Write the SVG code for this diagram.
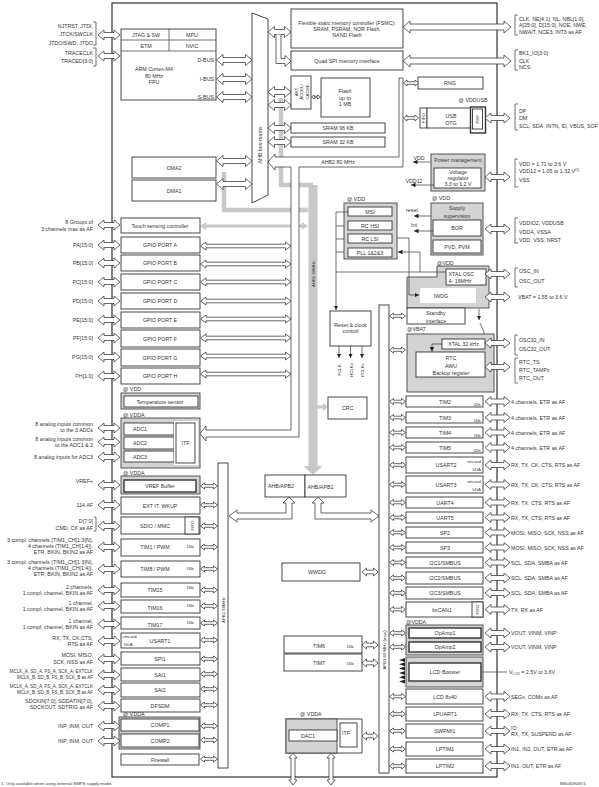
<svg xmlns="http://www.w3.org/2000/svg" width="599" height="787" viewBox="0 0 599 787">
<style>
.t{font-family:"Liberation Sans",Arial,sans-serif;font-size:5.3px;fill:#333}
.s{font-size:4.3px}
.n{font-size:4.5px}
.m{text-anchor:middle}
.e{text-anchor:end}
.b{fill:#fff;stroke:#333;stroke-width:0.9}
.bb{fill:#fff;stroke:#333;stroke-width:1.4}
.g{fill:#d3d3d3;stroke:#444;stroke-width:0.9}
.a{fill:#fff;stroke:#333;stroke-width:0.75}
.l{fill:none;stroke:#333;stroke-width:0.7}
.gy{fill:none;stroke:#c8c8c8;stroke-width:4.5}
.gf{fill:#c8c8c8}
</style>
<defs>
<marker id="ah" viewBox="0 0 6 6" refX="6" refY="3" markerUnits="userSpaceOnUse" markerWidth="4.5" markerHeight="4.5" orient="auto"><path d="M0,0 L6,3 L0,6 Z" fill="#222"/></marker>
<path id="aL" class="a" d="M98,0 L104,-5 L104,-2.5 L114,-2.5 L114,-5 L120,0 L114,5 L114,2.5 L104,2.5 L104,5 Z"/>
<path id="aR" class="a" d="M485,0 L491,-5 L491,-2.5 L504,-2.5 L504,-5 L510,0 L504,5 L504,2.5 L491,2.5 L491,5 Z"/>
<path id="a2" class="a" d="M200.5,0 L204.5,-3 L204.5,-1.3 L213.5,-1.3 L213.5,-3 L217.5,0 L213.5,3 L213.5,1.3 L204.5,1.3 L204.5,3 Z"/>
<path id="a1" class="a" d="M389.5,0 L393.5,-3 L393.5,-1.3 L401.5,-1.3 L401.5,-3 L405.5,0 L401.5,3 L401.5,1.3 L393.5,1.3 L393.5,3 Z"/>
<path id="aG" class="a" d="M200.5,0 L206,-4 L206,-1.8 L285.5,-1.8 L285.5,-4 L291,0 L285.5,4 L285.5,1.8 L206,1.8 L206,4 Z"/>
<path id="aM" class="a" d="M216.5,0 L223,-5.5 L223,-2.5 L245.5,-2.5 L245.5,-5.5 L252,0 L245.5,5.5 L245.5,2.5 L223,2.5 L223,5.5 Z"/>
<path id="aN" class="a" d="M268,0 L274.5,-5.5 L274.5,-2.5 L284.5,-2.5 L284.5,-5.5 L291,0 L284.5,5.5 L284.5,2.5 L274.5,2.5 L274.5,5.5 Z"/>
<path id="aT" class="a" d="M362,0 L366.5,-4 L366.5,-1.8 L373.5,-1.8 L373.5,-4 L378,0 L373.5,4 L373.5,1.8 L366.5,1.8 L366.5,4 Z"/>
<path id="aS" class="a" d="M403.5,0 L407,-3 L407,-1.3 L415,-1.3 L415,-3 L418.5,0 L415,3 L415,1.3 L407,1.3 L407,3 Z"/>
<path id="aV" class="a" d="M0,0 L4,5 L2,5 L2,27 L4,27 L0,32 L-4,27 L-2,27 L-2,5 L-4,5 Z"/>
</defs>
<rect width="599" height="787" fill="#fff"/>
<rect id="mcu-border" x="112" y="3" width="385" height="774" fill="none" stroke="#333" stroke-width="1.2"/>

<g id="ahb1-bus">
<path class="gy" d="M281,98 L281,185 L313,185"/>
<path class="gy" d="M224,172 L224,210 L308,210"/>
<path class="gf" d="M308.5,185 L317.5,185 L317.5,466 L322.5,466 L313,475 L303.5,466 L308.5,466 Z"/>
<text class="t s" transform="translate(313,274) rotate(-90)" dy="0.35em" text-anchor="middle">AHB1 80MHz</text>
<path class="gf" d="M317,405.5 L323,405.5 L323,403 L328,407 L323,411 L323,408.5 L317,408.5 Z"/>
<path class="gf" d="M200,226 L206,222 L206,224.5 L302,224.5 L302,222 L308,226 L302,230 L302,227.5 L206,227.5 L206,230 Z"/>
</g>

<g id="ahb2-bus">
<path class="a" d="M268,162 L275,154 L275,157 L399,157 L399,78 L403,78 L403,167 L299,167 L299,437 L206,437 L206,441 L200,433.5 L206,426 L206,430 L291,430 L291,167 L275,167 L275,170 Z"/>
<text class="t m" x="338" y="164">AHB2 80 MHz</text>
</g>

<g id="cpu">
<rect class="b" x="121" y="29" width="95" height="71"/>
<path class="l" d="M121,40 H216 M121,51 H216 M169,29 V51"/>
<text class="t m" x="146" y="37">JTAG &amp; SW</text>
<text class="t m" x="192" y="37">MPU</text>
<text class="t m" x="146" y="48">ETM</text>
<text class="t m" x="192" y="48">NVIC</text>
<text class="t m" x="154" y="71">ARM Cortex-M4</text>
<text class="t m" x="154" y="78">80 MHz</text>
<text class="t m" x="154" y="84">FPU</text>
<text class="t e" x="214" y="62">D-BUS</text>
<text class="t e" x="214" y="81">I-BUS</text>
<text class="t e" x="214" y="99">S-BUS</text>
</g>

<g id="bus-matrix">
<path class="b" d="M252,13 L268,19 L268,195 L252,203 Z"/>
<text class="t" transform="translate(260,145) rotate(-90)" dy="0.35em" text-anchor="middle">AHB bus-matrix</text>
</g>

<g id="dma2"><rect class="b" x="132" y="157" width="84" height="21"/><text class="t m" x="174" y="170">DMA2</text></g>
<g id="dma1"><rect class="b" x="132" y="180" width="84" height="21"/><text class="t m" x="174" y="193">DMA1</text></g>

<g id="fsmc"><rect class="b" x="291" y="9" width="112" height="39"/>
<text class="t m" x="347" y="25">Flexible static memory controller (FSMC):</text>
<text class="t m" x="347" y="31">SRAM, PSRAM, NOR Flash,</text>
<text class="t m" x="347" y="37">NAND Flash</text></g>
<g id="quadspi"><rect class="b" x="291" y="51" width="112" height="19"/><text class="t m" x="347" y="63">Quad SPI memory interface</text></g>

<g id="art"><rect class="b" x="291" y="76" width="20" height="33"/>
<text class="t s m" transform="translate(296,92) rotate(-90)" dy="0.35em">ART</text>
<text class="t s m" transform="translate(301.5,92) rotate(-90)" dy="0.35em">ACCEL/</text>
<text class="t s m" transform="translate(307,92) rotate(-90)" dy="0.35em">CACHE</text></g>
<g id="flash"><rect class="b" x="321" y="78" width="49" height="39"/>
<text class="t m" x="345" y="93">Flash</text><text class="t m" x="345" y="100">up to</text><text class="t m" x="345" y="106">1 MB</text></g>
<g id="sram96"><rect class="b" x="291" y="123" width="94" height="10"/><text class="t m" x="338" y="130">SRAM 96 KB</text></g>
<g id="sram32"><rect class="b" x="291" y="137" width="94" height="10"/><text class="t m" x="338" y="144">SRAM 32 KB</text></g>

<g id="rng"><rect class="b" x="418" y="77" width="65" height="12"/><text class="t m" x="450" y="85">RNG</text></g>
<g id="usb">
<text class="t m" x="473" y="102">@ VDDUSB</text>
<rect class="b" x="420" y="108" width="7" height="20"/>
<text class="t s m" transform="translate(423.5,118) rotate(-90)" dy="0.35em">FIFO</text>
<rect class="b" x="427" y="108" width="44" height="20"/>
<text class="t m" x="451" y="118">USB</text><text class="t m" x="451" y="125">OTG</text>
<rect class="bb" x="470.5" y="107" width="15" height="26"/>
<rect class="b" x="472.5" y="109" width="10" height="20"/>
<text class="t s m" transform="translate(477.5,119) rotate(-90)" dy="0.35em">PHY</text>
</g>

<g id="power-management">
<rect class="g" x="431" y="154" width="54" height="37"/>
<text class="t m" x="458" y="162">Power management</text>
<rect class="b" x="434" y="168" width="47" height="20"/>
<text class="t m" x="458" y="173.5">Voltage</text><text class="t m" x="458" y="179.5">regulator</text><text class="t m" x="458" y="185.5">3.3 to 1.2 V</text>
<text class="t m" x="419" y="160">VDD</text>
<text class="t m" x="414" y="183">VDD12</text>
</g>

<g id="supply-supervision">
<text class="t m" x="441" y="200">@ VDD</text>
<rect class="g" x="431" y="203" width="52" height="52"/>
<text class="t m" x="457" y="210">Supply</text><text class="t m" x="457" y="218">supervision</text>
<rect class="b" x="433" y="220" width="48" height="16"/><text class="t m" x="457" y="230">BOR</text>
<rect class="b" x="433" y="240" width="48" height="13"/><text class="t m" x="457" y="248.5">PVD, PVM</text>
<text class="t m" x="412" y="212">reset</text>
<text class="t m" x="414" y="227">Int</text>
</g>

<g id="clocks">
<text class="t" x="347" y="201">@ VDD</text>
<rect class="g" x="344" y="203" width="53" height="56"/>
<rect class="b" x="348" y="207" width="44" height="9"/><text class="t m" x="370" y="213.8">MSI</text>
<rect class="b" x="348" y="221" width="44" height="9"/><text class="t m" x="370" y="227.8">RC HSI</text>
<rect class="b" x="348" y="234" width="44" height="9"/><text class="t m" x="370" y="240.8">RC LSI</text>
<rect class="b" x="348" y="248" width="44" height="9"/><text class="t m" x="370" y="254.8">PLL 1&amp;2&amp;3</text>
</g>

<g id="reset-clock-control">
<rect class="b" x="330" y="311" width="41" height="35"/>
<text class="t m" x="350.5" y="327">Reset &amp; clock</text><text class="t m" x="350.5" y="333">control</text>
<text class="t s m" transform="translate(339,370) rotate(-90)" dy="0.35em">FCLK</text>
<text class="t s m" transform="translate(351,370) rotate(-90)" dy="0.35em">HCLKx</text>
<text class="t s m" transform="translate(362,370) rotate(-90)" dy="0.35em">PCLKx</text>
</g>

<g id="wdg-domain">
<text class="t" x="437" y="265">@VDD</text>
<path class="g" d="M407,277 L437,277 L437,266 L489,266 L489,308 L407,308 Z"/>
<rect class="b" x="446" y="269" width="40" height="16"/>
<text class="t" x="448.5" y="276">XTAL OSC</text><text class="t" x="448.5" y="283">4- 16MHz</text>
<rect x="420" y="288" width="56" height="15" fill="#fff"/>
<text class="t m" x="441" y="297.5">IWDG</text>
</g>
<g id="standby"><rect class="b" x="407" y="308" width="58" height="16"/>
<text class="t m" x="436" y="315">Standby</text><text class="t m" x="436" y="322.5">interface</text></g>

<g id="vbat-domain">
<text class="t" x="407" y="331">@VBAT</text>
<rect class="g" x="407" y="334" width="87" height="58"/>
<rect class="b" x="442" y="339" width="43" height="10"/><text class="t m" x="463.5" y="346">XTAL 32 kHz</text>
<rect class="b" x="416" y="352" width="69" height="25"/>
<text class="t m" x="451" y="360">RTC</text><text class="t m" x="451" y="368">AWU</text><text class="t m" x="451" y="375">Backup register</text>
</g>

<g id="crc"><rect class="b" x="328" y="397" width="39" height="22"/><text class="t m" x="347.5" y="410">CRC</text></g>
<g id="ahb-apb2"><rect class="b" x="265" y="475" width="40" height="22"/><text class="t" x="268" y="488">AHB/APB2</text></g>
<g id="ahb-apb1"><rect class="b" x="305" y="475" width="41" height="22"/><text class="t" x="307.5" y="489">AHB/APB1</text></g>
<g id="wwdg"><rect class="b" x="282" y="563" width="78" height="18"/><text class="t m" x="317" y="574">WWDG</text></g>
<g id="tim6"><rect class="b" x="284" y="636" width="78" height="17"/><text class="t m" x="319" y="648">TIM6</text><text class="t s m" x="350" y="648">16b</text></g>
<g id="tim7"><rect class="b" x="284" y="654" width="78" height="17"/><text class="t m" x="319" y="665">TIM7</text><text class="t s m" x="350" y="665">16b</text></g>
<g id="dac">
<text class="t" x="300" y="716">@ VDDA</text>
<rect class="b" x="286" y="719" width="76" height="34"/>
<rect class="g" x="286" y="719" width="51" height="34"/>
<rect class="b" x="289" y="730" width="48" height="11"/><text class="t m" x="308" y="738">DAC1</text>
<rect class="b" x="340" y="723" width="17" height="24"/><text class="t" x="342" y="735">ITF</text>
</g>

<g id="apb2-bus"><rect class="b" x="218" y="463" width="10" height="305"/>
<text class="t s m" transform="translate(223,610) rotate(-90)" dy="0.35em">APB2 80MHz</text></g>
<g id="apb1-bus"><rect class="b" x="379" y="305" width="10" height="468"/>
<text class="t s m" transform="translate(384,650) rotate(-90)" dy="0.35em">APB1 80 MHz (max)</text></g>

<g id="touch"><rect class="b" x="121" y="218" width="79" height="15"/><text class="t m" x="160" y="227.5">Touch sensing controller</text></g>
<g id="gpioa"><rect class="b" x="121" y="237" width="79" height="16"/><text class="t m" x="160" y="247">GPIO PORT A</text></g>
<g id="gpiob"><rect class="b" x="121" y="255" width="79" height="16"/><text class="t m" x="160" y="265">GPIO PORT B</text></g>
<g id="gpioc"><rect class="b" x="121" y="274" width="79" height="16"/><text class="t m" x="160" y="284">GPIO PORT C</text></g>
<g id="gpiod"><rect class="b" x="121" y="293" width="79" height="16"/><text class="t m" x="160" y="303">GPIO PORT D</text></g>
<g id="gpioe"><rect class="b" x="121" y="312" width="79" height="16"/><text class="t m" x="160" y="322">GPIO PORT E</text></g>
<g id="gpiof"><rect class="b" x="121" y="330" width="79" height="17"/><text class="t m" x="160" y="340.5">GPIO PORT F</text></g>
<g id="gpiog"><rect class="b" x="121" y="349" width="79" height="17"/><text class="t m" x="160" y="359.5">GPIO PORT G</text></g>
<g id="gpioh"><rect class="b" x="121" y="368" width="79" height="16"/><text class="t m" x="160" y="378">GPIO PORT H</text></g>
<g id="temp"><text class="t" x="123" y="391">@ VDD</text>
<rect class="g" x="121" y="393" width="79" height="16"/><rect class="b" x="124" y="396" width="74" height="11"/>
<text class="t m" x="160" y="403.5">Temperature sensor</text></g>
<g id="adc"><text class="t" x="123" y="417">@ VDDA</text>
<rect class="g" x="121" y="418" width="79" height="50"/>
<rect class="b" x="124" y="423" width="50" height="12"/><text class="t m" x="140" y="431">ADC1</text>
<rect class="b" x="124" y="437" width="50" height="12"/><text class="t m" x="140" y="445">ADC2</text>
<rect class="b" x="124" y="451" width="50" height="11"/><text class="t m" x="140" y="458.5">ADC3</text>
<rect x="174" y="421" width="24" height="44" fill="#fff"/>
<rect class="b" x="176" y="423" width="19" height="40"/><text class="t m" x="185.5" y="445">ITF</text></g>
<g id="vref"><text class="t" x="123" y="475">@ VDDA</text>
<rect class="g" x="121" y="476" width="79" height="18"/><rect class="bb" x="124" y="480" width="72" height="12"/>
<text class="t m" x="160" y="488">VREF Buffer</text></g>
<g id="extit"><rect class="b" x="121" y="497" width="79" height="17"/><text class="t m" x="160" y="508">EXT IT. WKUP</text></g>
<g id="sdio"><rect class="b" x="121" y="517" width="79" height="17"/><rect class="b" x="185" y="517" width="14" height="17"/>
<text class="t m" x="155" y="528">SDIO / MMC</text><text class="t s m" transform="translate(192,525.5) rotate(-90)" dy="0.35em">FIFO</text></g>
<g id="tim1"><rect class="b" x="121" y="539" width="79" height="17"/><text class="t m" x="155" y="549">TIM1 / PWM</text><text class="t s m" x="190" y="548">16b</text></g>
<g id="tim8"><rect class="b" x="121" y="561" width="79" height="16"/><text class="t m" x="155" y="571">TIM8 / PWM</text><text class="t s m" x="190" y="570">16b</text></g>
<g id="tim15"><rect class="b" x="121" y="583" width="79" height="14"/><text class="t m" x="155" y="592">TIM15</text><text class="t s m" x="190" y="589">16b</text></g>
<g id="tim16"><rect class="b" x="121" y="600" width="79" height="13"/><text class="t m" x="155" y="610">TIM16</text><text class="t s m" x="190" y="607">16b</text></g>
<g id="tim17"><rect class="b" x="121" y="617" width="79" height="12"/><text class="t m" x="155" y="627">TIM17</text><text class="t s m" x="190" y="624">16b</text></g>
<g id="usart1"><rect class="b" x="121" y="633" width="79" height="15"/><text class="t s" x="122.5" y="637.5">smcard</text><text class="t s" x="124" y="646">IrDA</text><text class="t m" x="160" y="643">USART1</text></g>
<g id="spi1"><rect class="b" x="121" y="652" width="79" height="13"/><text class="t m" x="160" y="661">SPI1</text></g>
<g id="sai1"><rect class="b" x="121" y="668" width="79" height="13"/><text class="t m" x="160" y="676.5">SAI1</text></g>
<g id="sai2"><rect class="b" x="121" y="683" width="79" height="14"/><text class="t m" x="160" y="692">SAI2</text></g>
<g id="dfsdm"><rect class="b" x="121" y="699" width="79" height="13"/><text class="t m" x="160" y="707.5">DFSDM</text></g>
<g id="comp"><text class="t" x="123" y="716">@ VDDA</text>
<rect class="g" x="119" y="717" width="81" height="32"/>
<rect class="b" x="121" y="719" width="78" height="12"/><text class="t m" x="160" y="727">COMP1</text>
<rect class="b" x="121" y="734" width="78" height="13"/><text class="t m" x="160" y="742.5">COMP2</text></g>
<g id="firewall"><rect class="b" x="121" y="754" width="78" height="11"/><text class="t m" x="160" y="761.5">Firewall</text></g>

<g id="tim2"><rect class="b" x="406" y="396" width="77" height="11"/><text class="t m" x="445" y="403.5">TIM2</text><text class="t s m" x="477" y="406">32b</text></g>
<g id="tim3"><rect class="b" x="406" y="412" width="77" height="11"/><text class="t m" x="445" y="419.5">TIM3</text><text class="t s m" x="477" y="422">16b</text></g>
<g id="tim4"><rect class="b" x="406" y="427" width="77" height="11"/><text class="t m" x="445" y="434.5">TIM4</text><text class="t s m" x="477" y="437">16b</text></g>
<g id="tim5"><rect class="b" x="406" y="442" width="77" height="11"/><text class="t m" x="445" y="449.5">TIM5</text><text class="t s m" x="477" y="452">32b</text></g>
<g id="usart2"><rect class="b" x="406" y="457" width="77" height="16"/><text class="t m" x="446" y="467">USART2</text><text class="t s e" x="481" y="463">smcard</text><text class="t s e" x="481" y="471">IrDA</text></g>
<g id="usart3"><rect class="b" x="406" y="476" width="77" height="17"/><text class="t m" x="446" y="486.5">USART3</text><text class="t s e" x="481" y="482.5">smcard</text><text class="t s e" x="481" y="491">IrDA</text></g>
<g id="uart4"><rect class="b" x="406" y="497" width="77" height="11"/><text class="t m" x="445" y="504.5">UART4</text></g>
<g id="uart5"><rect class="b" x="406" y="512" width="77" height="11"/><text class="t m" x="445" y="519.5">UART5</text></g>
<g id="sp2"><rect class="b" x="406" y="527" width="77" height="11"/><text class="t m" x="445" y="534.5">SP2</text></g>
<g id="sp3"><rect class="b" x="406" y="542" width="77" height="11"/><text class="t m" x="445" y="549.5">SP3</text></g>
<g id="i2c1"><rect class="b" x="406" y="557" width="77" height="11"/><text class="t m" x="445" y="564.5">I2C1/SMBUS</text></g>
<g id="i2c2"><rect class="b" x="406" y="572" width="77" height="12"/><text class="t m" x="445" y="580">I2C2/SMBUS</text></g>
<g id="i2c3"><rect class="b" x="406" y="587" width="77" height="12"/><text class="t m" x="445" y="595">I2C3/SMBUS</text></g>
<g id="bxcan1"><rect class="b" x="406" y="602" width="77" height="15"/><rect class="b" x="472" y="602" width="11" height="15"/>
<text class="t m" x="442" y="611.5">bxCAN1</text><text class="t s m" transform="translate(477.5,609.5) rotate(-90)" dy="0.35em">FIFO</text></g>
<g id="opamp"><text class="t" x="406" y="623.5">@VDDA</text>
<rect class="g" x="406" y="625" width="77" height="30"/>
<rect class="bb" x="409" y="628" width="72" height="10"/><text class="t m" x="445" y="635">OpAmp1</text>
<rect class="bb" x="409" y="642" width="72" height="10"/><text class="t m" x="445" y="649">OpAmp2</text></g>
<g id="lcd-booster"><rect class="g" x="406" y="657" width="77" height="30"/>
<rect class="bb" x="409" y="663" width="72" height="18"/><text class="t m" x="445" y="674">LCD Booster</text>
<path fill="#222" d="M399,660 L405,658 L405,662 Z M399,664.3 L405,662.3 L405,666.3 Z M399,668.6 L405,666.6 L405,670.6 Z M399,672.9 L405,670.9 L405,674.9 Z M399,677.2 L405,675.2 L405,679.2 Z M399,681.5 L405,679.5 L405,683.5 Z"/></g>
<g id="lcd"><rect class="b" x="406" y="689" width="77" height="15"/><text class="t m" x="445" y="698.5">LCD 8x40</text></g>
<g id="lpuart1"><rect class="b" x="406" y="707" width="77" height="14"/><text class="t m" x="445" y="716">LPUART1</text></g>
<g id="swpmi1"><rect class="b" x="406" y="724" width="77" height="14"/><text class="t m" x="445" y="733">SWPMI1</text></g>
<g id="lptim1"><rect class="b" x="406" y="742" width="77" height="14"/><text class="t m" x="445" y="751">LPTIM1</text></g>
<g id="lptim2"><rect class="b" x="406" y="759" width="77" height="14"/><text class="t m" x="445" y="768">LPTIM2</text></g>

<g id="connectors">
<use href="#aL" y="35"/><use href="#aL" y="56"/>
<use href="#aL" y="225"/><use href="#aL" y="245"/><use href="#aL" y="263"/><use href="#aL" y="282"/><use href="#aL" y="301"/><use href="#aL" y="320"/><use href="#aL" y="338"/><use href="#aL" y="357"/><use href="#aL" y="376"/>
<use href="#aL" y="428"/><use href="#aL" y="442"/><use href="#aL" y="457"/>
<use href="#aL" y="485"/><use href="#aL" y="505"/><use href="#aL" y="526"/><use href="#aL" y="547"/><use href="#aL" y="569"/><use href="#aL" y="590"/><use href="#aL" y="606"/><use href="#aL" y="624"/><use href="#aL" y="641"/><use href="#aL" y="659"/><use href="#aL" y="675"/><use href="#aL" y="690"/><use href="#aL" y="706"/><use href="#aL" y="726"/><use href="#aL" y="741"/>
<use href="#aM" y="60"/><use href="#aM" y="79"/><use href="#aM" y="97"/><use href="#aM" y="161"/><use href="#aM" y="184"/>
<use href="#aN" y="32"/>
<path class="a" d="M276,34.5 L276,63.5 L285,63.5 L285,66.5 L291,61 L285,55.5 L285,58.5 L281,58.5 L281,34.5"/>
<use href="#aN" y="92"/><use href="#aN" y="105"/><use href="#aN" y="128"/><use href="#aN" y="142"/>
<path class="a" d="M311.5,97 L314,95 L314,96.3 L317.5,96.3 L317.5,95 L320.5,97 L317.5,99 L317.5,97.7 L314,97.7 L314,99 Z"/>
<path class="a" d="M403,27 L410,21 L410,24 L504,24 L504,21 L511,27 L504,33 L504,30 L410,30 L410,33 Z"/>
<path class="a" d="M403,61 L410,55 L410,58 L504,58 L504,55 L511,61 L504,67 L504,64 L410,64 L410,67 Z"/>
<use href="#aS" y="83"/><use href="#aS" y="118"/>
<use href="#aG" y="246"/><use href="#aG" y="264"/><use href="#aG" y="282"/><use href="#aG" y="301"/><use href="#aG" y="319"/><use href="#aG" y="338"/><use href="#aG" y="356"/><use href="#aG" y="374"/>
<use href="#aR" y="118"/><use href="#aR" y="177"/><use href="#aR" y="229"/><use href="#aR" y="274"/><use href="#aR" y="297"/><use href="#aR" y="343"/><use href="#aR" y="367"/>
<use href="#aR" y="401.5"/><use href="#aR" y="417.5"/><use href="#aR" y="432.5"/><use href="#aR" y="447.5"/><use href="#aR" y="465"/><use href="#aR" y="484.5"/><use href="#aR" y="502.5"/><use href="#aR" y="517.5"/><use href="#aR" y="532.5"/><use href="#aR" y="547.5"/><use href="#aR" y="562.5"/><use href="#aR" y="578"/><use href="#aR" y="593"/><use href="#aR" y="609.5"/><use href="#aR" y="633"/><use href="#aR" y="647"/><use href="#aR" y="696.5"/><use href="#aR" y="714"/><use href="#aR" y="731"/><use href="#aR" y="749"/><use href="#aR" y="766"/>
<path class="l" d="M483,672 H507"/>
<use href="#a1" y="316"/><use href="#a1" y="350"/>
<use href="#a1" y="401.5"/><use href="#a1" y="417.5"/><use href="#a1" y="432.5"/><use href="#a1" y="447.5"/><use href="#a1" y="465"/><use href="#a1" y="484.5"/><use href="#a1" y="502.5"/><use href="#a1" y="517.5"/><use href="#a1" y="532.5"/><use href="#a1" y="547.5"/><use href="#a1" y="562.5"/><use href="#a1" y="578"/><use href="#a1" y="593"/><use href="#a1" y="609.5"/><use href="#a1" y="633"/><use href="#a1" y="647"/><use href="#a1" y="696.5"/><use href="#a1" y="714"/><use href="#a1" y="731"/><use href="#a1" y="749"/><use href="#a1" y="766"/>
<use href="#a2" y="486"/><use href="#a2" y="505"/><use href="#a2" y="526"/><use href="#a2" y="547"/><use href="#a2" y="569"/><use href="#a2" y="590"/><use href="#a2" y="606"/><use href="#a2" y="623"/><use href="#a2" y="640"/><use href="#a2" y="659"/><use href="#a2" y="674"/><use href="#a2" y="689"/><use href="#a2" y="705"/><use href="#a2" y="726"/><use href="#a2" y="740"/><use href="#a2" y="759"/>
<path class="a" d="M289,497 L295,503 L292,503 L292,519 L237,519 L237,522 L229,516 L237,510 L237,513 L286,513 L286,503 L283,503 Z"/>
<path class="a" d="M318,497 L324,503 L321,503 L321,513 L371,513 L371,510 L379,516 L371,522 L371,519 L315,519 L315,503 L312,503 Z"/>
<use href="#aT" y="572"/><use href="#aT" y="645"/><use href="#aT" y="663"/><use href="#aT" y="736"/>
<use href="#aV" x="293" y="753"/><use href="#aV" x="331" y="753"/>
<path class="l" d="M348,212 H336 V310" marker-end="url(#ah)"/>
<path class="l" d="M344,226 H336 M344,239 H336 M344,252 H336 M336,272 H446"/>
<path class="l" d="M420,272 V252 H398" marker-end="url(#ah)"/>
<path class="l" d="M397,238 H409 V295 H419" marker-end="url(#ah)"/>
<path class="l" d="M339,346 V358" marker-end="url(#ah)"/>
<path class="l" d="M350.5,346 V358" marker-end="url(#ah)"/>
<path class="l" d="M362,346 V358" marker-end="url(#ah)"/>
<path class="l" d="M431,162 H413" marker-end="url(#ah)"/>
<path class="l" d="M434,185 H411" marker-end="url(#ah)"/>
<path class="l" d="M431,216 H414" marker-end="url(#ah)"/>
<path class="l" d="M433,231 H414" marker-end="url(#ah)"/>
<path class="l" d="M479,309 V320" marker-end="url(#ah)"/>
<path class="l" d="M480,323 L484,332 V334"/>
<path class="l" d="M442,344 H432 V351.5" marker-end="url(#ah)"/>
</g>

<g id="ext-labels">
<path class="l" d="M93,22 H96 V45 H93 M93,48 H96 V66 H93"/>
<text class="t e" x="93" y="28">NJTRST, JTDI,</text>
<text class="t e" x="93" y="36">JTCK/SWCLK</text>
<text class="t e" x="93" y="45">JTDO/SWD, JTDO</text>
<text class="t e" x="93" y="55">TRACECLK</text>
<text class="t e" x="93" y="63">TRACED[3:0]</text>
<text class="t e" x="93" y="224">8 Groups of</text>
<text class="t e" x="93" y="231">3 channels max as AF</text>
<text class="t e" x="93" y="247">PA[15:0]</text>
<text class="t e" x="93" y="265">PB[15:0]</text>
<text class="t e" x="93" y="284">PC[15:0]</text>
<text class="t e" x="93" y="303">PD[15:0]</text>
<text class="t e" x="93" y="322">PE[15:0]</text>
<text class="t e" x="93" y="340">PF[15:0]</text>
<text class="t e" x="93" y="359">PG[15:0]</text>
<text class="t e" x="93" y="378"><tspan fill="#7a2f2f">PH</tspan>[1:0]</text>
<text class="t e" x="93" y="426">8 analog inputs common</text>
<text class="t e" x="93" y="431.5">to the 3 ADCs</text>
<text class="t e" x="93" y="441">8 analog inputs common</text>
<text class="t e" x="93" y="447">to the ADC1 &amp; 2</text>
<text class="t e" x="93" y="459">8 analog inputs for ADC3</text>
<text class="t e" x="93" y="483">VREF+</text>
<text class="t e" x="93" y="507">114 AF</text>
<path class="l" d="M94,517 H96 V531 H94"/>
<text class="t e" x="93" y="523">D[7:0]</text>
<text class="t e" x="93" y="529.5">CMD, CK as AF</text>
<text class="t e" x="93" y="542">3 compl. channels (TIM1_CH[1:3]N),</text>
<text class="t e" x="93" y="548">4 channels (TIM1_CH[1:4]),</text>
<text class="t e" x="93" y="554">ETR, BKIN, BKIN2 as AF</text>
<text class="t e" x="93" y="564">3 compl. channels (TIM1_CH[1:3]N),</text>
<text class="t e" x="93" y="570">4 channels (TIM1_CH[1:4]),</text>
<text class="t e" x="93" y="576">ETR, BKIN, BKIN2 as AF</text>
<text class="t e" x="93" y="589">2 channels,</text>
<text class="t e" x="93" y="595">1 compl. channel, BKIN as AF</text>
<text class="t e" x="93" y="605">1 channel,</text>
<text class="t e" x="93" y="611">1 compl. channel, BKIN as AF</text>
<text class="t e" x="93" y="623">1 channel,</text>
<text class="t e" x="93" y="629">1 compl. channel, BKIN as AF</text>
<text class="t e" x="93" y="640">RX, TX, CK,CTS,</text>
<text class="t e" x="93" y="646">RTS as AF</text>
<text class="t e" x="93" y="657">MOSI, MISO,</text>
<text class="t e" x="93" y="664">SCK, NSS as AF</text>
<text class="t n e" x="93" y="673">MCLK_A, SD_A, FS_A, SCK_A, EXTCLK</text>
<text class="t n e" x="93" y="679">MCLK_B, SD_B, FS_B, SCK_B as AF</text>
<text class="t n e" x="93" y="688">MCLK_A, SD_A, FS_A, SCK_A, EXTCLK</text>
<text class="t n e" x="93" y="694">MCLK_B, SD_B, FS_B, SCK_B as AF</text>
<text class="t e" x="93" y="703">SDCKIN[7:0], SDDATIN[7:0],</text>
<text class="t e" x="93" y="709">SDCKOUT, SDTRIG as AF</text>
<text class="t e" x="93" y="728">INP, INM, OUT</text>
<text class="t e" x="93" y="743">INP, INM, OUT</text>

<path class="l" d="M518,15 H515 V35 H518 M518,50 H515 V70 H518 M518,104 H515 V130 H518 M518,159 H515 V187 H518 M518,218 H515 V243 H518 M518,268 H515 V287 H518 M518,335 H515 V355 H518 M518,358 H515 V383 H518"/>
<text class="t" x="519" y="21">CLK, NE[4:1], NL, NBL[1:0],</text>
<text class="t" x="519" y="27">A[25:0], D[15:0], NOE, NWE,</text>
<text class="t" x="519" y="34">NWAIT, NCE3, INT3 as AF</text>
<text class="t" x="519" y="55">BK1_IO[3:0]</text>
<text class="t" x="519" y="63">CLK</text>
<text class="t" x="519" y="69">NCS</text>
<text class="t" x="519" y="113">DP</text>
<text class="t" x="519" y="119.5">DM</text>
<text class="t" x="519" y="128">SCL, SDA, INTN, ID, VBUS, SOF</text>
<text class="t" x="519" y="166">VDD = 1.71 to 3.6 V</text>
<text class="t" x="519" y="173">VDD12 = 1.05 to 1.32 V<tspan font-size="3.5" dy="-2">(1)</tspan></text>
<text class="t" x="519" y="182">VSS</text>
<text class="t" x="519" y="225">VDDIO2, VDDUSB</text>
<text class="t" x="519" y="234">VDDA, VSSA</text>
<text class="t" x="519" y="242">VDD, VSS, NRST</text>
<text class="t" x="519" y="273">OSC_IN</text>
<text class="t" x="519" y="283">OSC_OUT</text>
<text class="t" x="518" y="299">VBAT = 1.55 to 3.6 V</text>
<text class="t" x="519" y="342">OSC32_IN</text>
<text class="t" x="519" y="351">OSC32_OUT</text>
<text class="t" x="519" y="364">RTC_TS</text>
<text class="t" x="519" y="372">RTC_TAMPx</text>
<text class="t" x="519" y="380">RTC_OUT</text>
<text class="t" x="511" y="403.5">4 channels, ETR as AF</text>
<text class="t" x="511" y="419.5">4 channels, ETR as AF</text>
<text class="t" x="511" y="434.5">4 channels, ETR as AF</text>
<text class="t" x="511" y="449.5">4 channels, ETR as AF</text>
<text class="t" x="511" y="467">RX, TX, CK, CTS, RTS as AF</text>
<text class="t" x="511" y="486.5">RX, TX, CK, CTS, RTS as AF</text>
<text class="t" x="511" y="504.5">RX, TX, CTS, RTS as AF</text>
<text class="t" x="511" y="519.5">RX, TX, CTS, RTS as AF</text>
<text class="t" x="511" y="534.5">MOSI, MISO, SCK, NSS as AF</text>
<text class="t" x="511" y="549.5">MOSI, MISO, SCK, NSS as AF</text>
<text class="t" x="511" y="564.5">SCL, SDA, SMBA as AF</text>
<text class="t" x="511" y="580">SCL, SDA, SMBA as AF</text>
<text class="t" x="511" y="595">SCL, SDA, SMBA as AF</text>
<text class="t" x="511" y="611.5">TX, RX as AF</text>
<text class="t" x="511" y="635">VOUT, VINM, VINP</text>
<text class="t" x="511" y="649">VOUT, VINM, VINP</text>
<text class="t" x="509" y="674">V<tspan font-size="3.6" dy="0.8">LCD</tspan><tspan dy="-0.8"> = 2.5V to 3.6V</tspan></text>
<text class="t" x="511" y="698.5">SEGx, COMx as AF</text>
<text class="t" x="511" y="716">RX, TX, CTS, RTS as AF</text>
<text class="t" x="511" y="730">IO</text>
<text class="t" x="511" y="736">RX, TX, SUSPEND as AF</text>
<text class="t" x="511" y="751">IN1, IN2, OUT, ETR as AF</text>
<text class="t" x="511" y="768">IN1, OUT, ETR as AF</text>
<text class="t s" x="1" y="785">1. Only available when using external SMPS supply mode.</text>
<text class="t s" x="560" y="785">MSv40906V1</text>
</g>
</svg>
